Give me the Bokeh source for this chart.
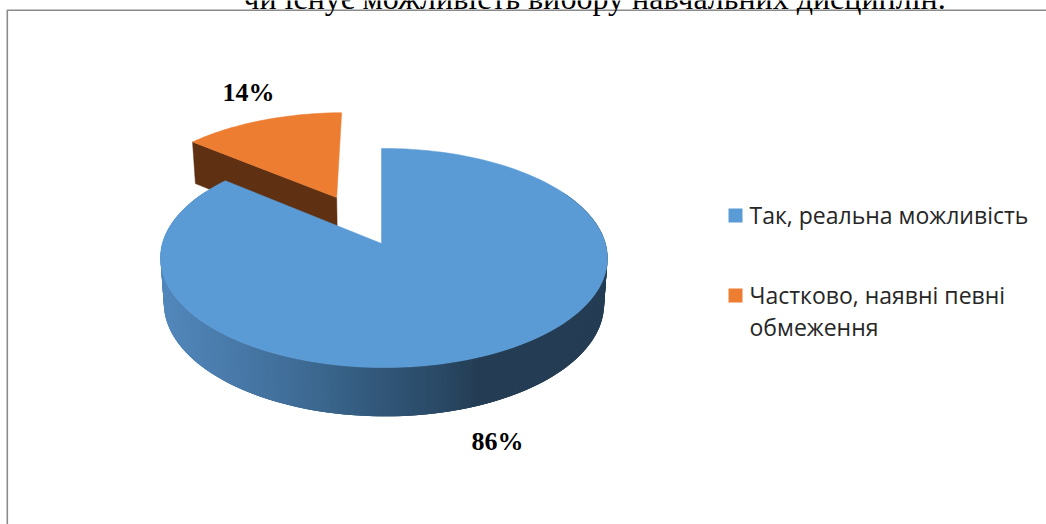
import math
from bokeh.plotting import figure
from bokeh.models import Range1d
from bokeh.core.properties import value
from bokeh.embed import file_html
from bokeh.resources import INLINE

# ---- data ----
categories = ["Так, реальна можливість", "Частково, наявні певні\nобмеження"]
values = [86, 14]
title = "чи існує можливість вибору навчальних дисциплін."

# ---- style ----
BLUE, ORANGE, BROWN = "#5B9BD5", "#ED7D31", "#5F3012"
SIDE_STOPS = [(165, (82, 135, 187)), (300, (63, 108, 150)), (370, (51, 90, 125)),
              (440, (42, 74, 102)), (480, (36, 61, 84)), (610, (36, 61, 84))]
X0, Y0, R, H, K, M = 381.0, 243.0, 221.5, 107.6, 0.1325, 0.011
EXPLODE = (-0.215, 0.453)
STEP = 1.0


def proj(u, v):
    w = 1 + K * v - M * u
    return X0 + R * u / w, Y0 - H * v / w


def low(u, v):
    w = 1 + K * v - M * u
    x, y = proj(u, v)
    return 383 + (x - 383) * 0.985, y + 20 + 25 / w


def circ(t, off=(0, 0)):
    a = math.radians(t)
    return off[0] + math.sin(a), off[1] + math.cos(a)


def side_color(x):
    for (x1, c1), (x2, c2) in zip(SIDE_STOPS, SIDE_STOPS[1:]):
        if x <= x2:
            f = max(0, (x - x1) / (x2 - x1))
            return "#%02x%02x%02x" % tuple(round(a + (b - a) * f) for a, b in zip(c1, c2))
    return "#243d54"


p = figure(width=1046, height=524, margin=(0, 0, 0, 0), output_backend="svg",
           toolbar_location=None, x_axis_type=None, y_axis_type=None,
           x_range=Range1d(0, 1046), y_range=Range1d(524, 0),
           min_border=0, outline_line_color=None)
p.grid.visible = False

# chart frame
p.line([6.8, 6.8, 1046], [524, 9.8, 9.8], line_color="#8a8a8a", line_width=1.6)
# caption, cut off by the top of the picture as in the source
p.text([594], [-3], text=[title], text_font=value("Liberation Serif"), text_font_size="32px",
       text_align="center", text_baseline="alphabetic", text_color="#000000")

end_blue = 360 * values[0] / sum(values)

# exploded slice: cut wall, then top
pts = [(EXPLODE[0], EXPLODE[1]), circ(end_blue, EXPLODE)]
wall = [proj(*q) for q in pts] + [low(*q) for q in reversed(pts)]
p.patch([q[0] for q in wall], [q[1] for q in wall], fill_color=BROWN, line_color=BROWN, line_width=0.5)
n = int((360 - end_blue) / 1.5)
top = [proj(*EXPLODE)] + [proj(*circ(end_blue + i * (360 - end_blue) / n, EXPLODE)) for i in range(n + 1)]
p.patch([q[0] for q in top], [q[1] for q in top], fill_color=ORANGE, line_color=ORANGE, line_width=0.5)

# big slice: rim strips painted right to left, each overlapping the next, then top
xs, ys, cs = [], [], []
t = 60.0
while t < min(300.0, end_blue):
    a, b = circ(t), circ(t + STEP * 3)
    poly = [proj(*a), proj(*b), low(*b), low(*a)]
    xs.append([q[0] for q in poly])
    ys.append([q[1] for q in poly])
    m = circ(t)
    cs.append(side_color(proj(*m)[0]))
    t += STEP
p.patches(xs, ys, fill_color=cs, line_color=None)

n = int(end_blue / 1.5)
top = [proj(0, 0)] + [proj(*circ(i * end_blue / n)) for i in range(n + 1)]
p.patch([q[0] for q in top], [q[1] for q in top], fill_color=BLUE, line_color=BLUE, line_width=0.5)

# data labels
p.text([497, 248], [441, 92], text=[f"{values[0]}%", f"{values[1]}%"],
       text_font=value("Liberation Serif"), text_font_style="bold", text_font_size="26px",
       text_align="center", text_baseline="alphabetic", text_color="#000000")

# legend
p.quad(left=[728, 728], right=[742, 742], top=[208, 288], bottom=[222, 302],
       fill_color=[BLUE, ORANGE], line_color=None)
lines = categories[0:1] + categories[1].split("\n")
p.text([749, 749, 749], [214, 294, 326], text=lines,
       text_font=value("Open Sans"), text_font_size="23px",
       text_align="left", text_baseline="alphabetic", text_color="#262626")

open("out.html", "w").write(file_html(p, INLINE))
